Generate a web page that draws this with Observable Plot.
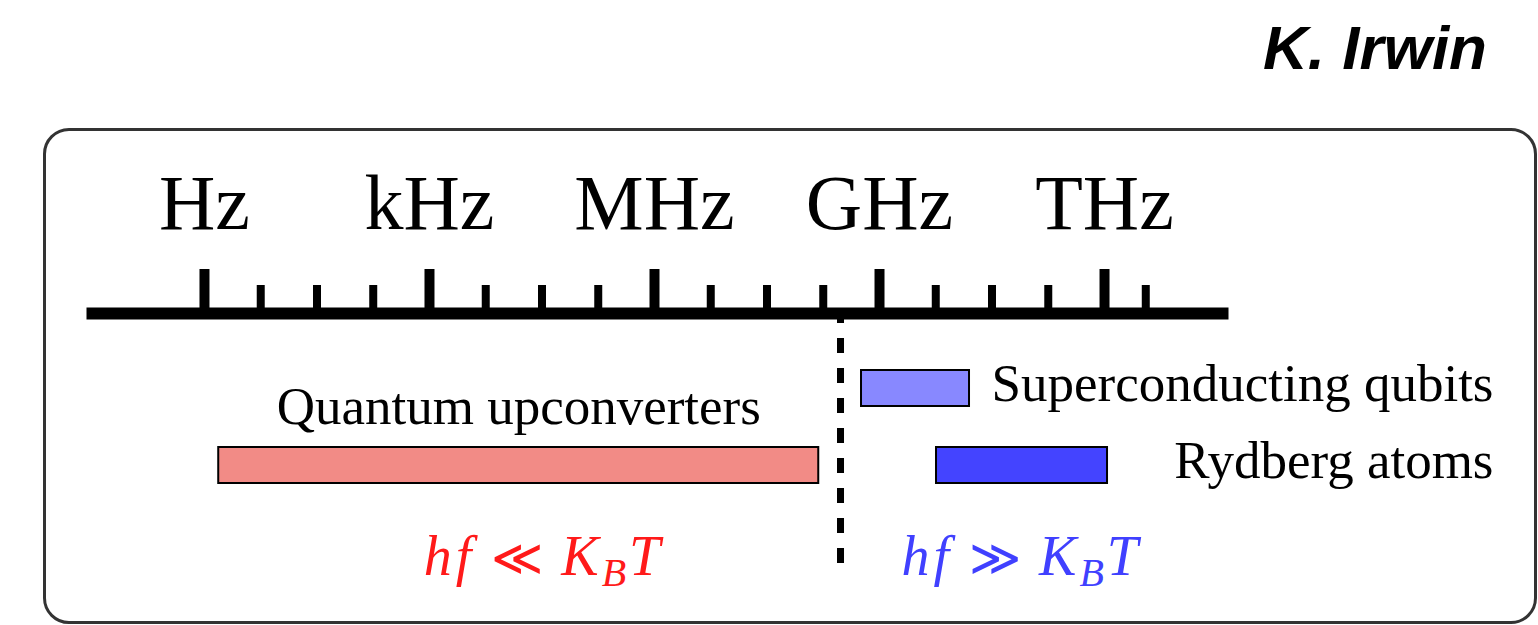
<!DOCTYPE html>
<html><head><meta charset="utf-8">
<script src="https://cdn.jsdelivr.net/npm/d3@7"></script>
<script src="https://cdn.jsdelivr.net/npm/@observablehq/plot@0.6"></script>
<style>
html,body{margin:0;padding:0;background:#fff;}
#page{position:relative;width:1538px;height:625px;overflow:hidden;}
#title{position:absolute;right:51px;top:17px;font:italic bold 62px/62px "Liberation Sans",Arial,sans-serif;color:#000;margin:0;}
#box{position:absolute;left:43px;top:128px;width:1494px;height:496px;border:3px solid #333;border-radius:26px;box-sizing:border-box;}
#chart{position:absolute;left:0;top:110px;}
</style></head>
<body><div id="page"><div id="title">K. Irwin</div><div id="box"></div><div id="chart"></div></div>
<script>
// frequency axis in log10(f / Hz)
const axisExtent = [-1.573, 13.653];
const majorTicks = [0, 3, 6, 9, 12];
const majorTickLabels = ["Hz", "kHz", "MHz", "GHz", "THz"];
const minorTicks = [0.75, 1.5, 2.25, 3.75, 4.5, 5.25, 6.75, 7.5, 8.25, 9.75, 10.5, 11.25, 12.55];
// technologies and their frequency ranges
const technologies = ["Quantum upconverters", "Superconducting qubits", "Rydberg atoms"];
const rangeStart = [0.19, 8.76, 9.76];
const rangeEnd = [8.19, 10.2, 12.04];
const rangeRow = ["lower", "upper", "lower"];
// thermal boundary hf = k_B T
const thermalBoundary = [8.48];
const regimeLabels = ["hf ≪ K_BT", "hf ≫ K_BT"];
const regimeCenters = [4.5, 10.87];

const techColors = ["#f28b86", "#8888ff", "#4444ff"];
const regimeColors = ["#ff1a1a", "#4040ff"];

const bars = technologies.map((name, i) => ({name, start: rangeStart[i], end: rangeEnd[i], row: rangeRow[i]}));
const labelAbove = new Set(["Quantum upconverters"]);
const regimes = regimeLabels.map((label, i) => ({label, x: regimeCenters[i], i}));

const serif = '"Liberation Serif", "DejaVu Serif", serif';

const plot = Plot.plot({
  width: 1538, height: 515,
  marginLeft: 86, marginRight: 310, marginTop: 203, marginBottom: 60,
  x: {domain: axisExtent, axis: null, label: null},
  y: {type: "band", domain: ["upper", "lower"], range: [259, 373], paddingInner: 0.538, paddingOuter: 0, axis: null, label: null},
  color: {domain: technologies, range: techColors},
  style: {fontFamily: serif, color: "black", background: "transparent", overflow: "visible"},
  marks: [
    Plot.ruleX(thermalBoundary, {stroke: "black", strokeWidth: 7, strokeDasharray: "15,15", strokeDashoffset: 5}),
    Plot.frame({anchor: "top", stroke: "black", strokeWidth: 12, strokeLinecap: "butt"}),
    Plot.axisX(minorTicks, {anchor: "top", tickSize: 29, strokeWidth: 8, tickFormat: () => "", label: null}),
    Plot.axisX(majorTicks, {anchor: "top", tickSize: 45, strokeWidth: 10, tickPadding: 40, fontSize: 78,
      tickFormat: d => majorTickLabels[majorTicks.indexOf(d)], label: null}),
    Plot.barX(bars, {x1: "start", x2: "end", y: "row", fill: "name", stroke: "black", strokeWidth: 2}),
    Plot.text(bars.filter(d => labelAbove.has(d.name)), {x: d => (d.start + d.end) / 2, y: "row", text: "name",
      lineAnchor: "bottom", dy: -42, fontSize: 53}),
    Plot.text(bars.filter(d => !labelAbove.has(d.name)), {frameAnchor: "right", y: "row", text: "name",
      textAnchor: "end", dx: 265, dy: -4, fontSize: 53}),
    ...regimes.map(r => Plot.text([r], {x: "x", frameAnchor: "bottom", text: "label", lineAnchor: "bottom",
      dy: 9, fill: regimeColors[r.i], fontStyle: "italic", fontSize: 56}))
  ]
});

// typeset the regime formulas: italic letters, upright relation, K_B subscript
plot.querySelectorAll("text").forEach(t => {
  const s = t.textContent;
  const i = s.indexOf("_");
  if (i < 0 || t.children.length) return;
  const [lhs, rel, rhs] = s.split(" ");
  const j = rhs.indexOf("_");
  t.textContent = "";
  const mk = (str, attrs = {}) => {
    const ts = document.createElementNS("http://www.w3.org/2000/svg", "tspan");
    ts.textContent = str;
    for (const k in attrs) ts.setAttribute(k, attrs[k]);
    t.appendChild(ts);
  };
  mk(lhs, {"letter-spacing": "4"});
  mk(rel, {dx: "16", "font-family": '"DejaVu Sans"', "font-weight": "200", "font-style": "normal", "font-size": "50"});
  mk(rhs.slice(0, j), {dx: "18", "letter-spacing": "3"});
  mk(rhs[j + 1], {dy: "11", "font-size": "40", "letter-spacing": "3"});
  mk(rhs.slice(j + 2), {dy: "-11"});
});

document.getElementById("chart").appendChild(plot);
</script>
</body></html>
